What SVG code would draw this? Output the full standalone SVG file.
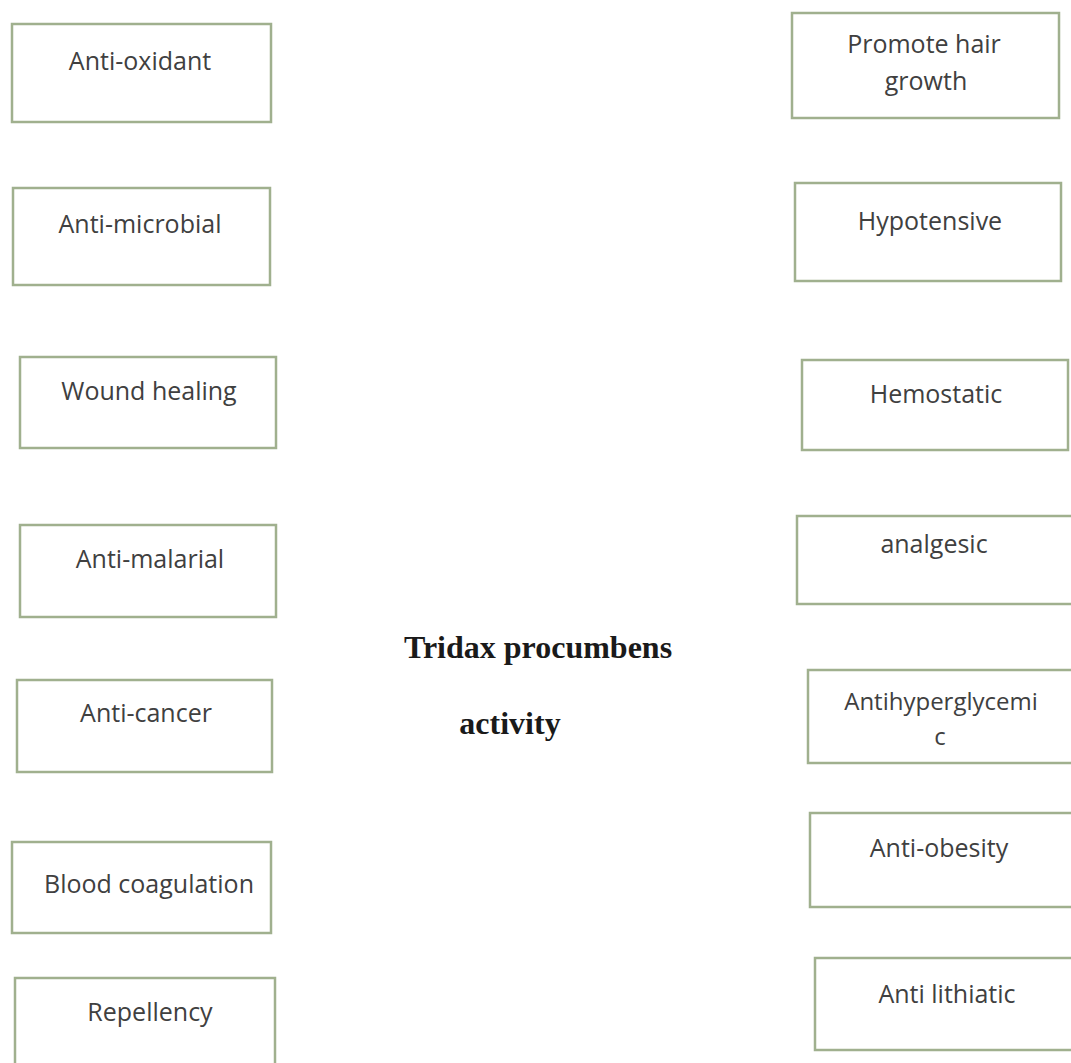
<svg xmlns="http://www.w3.org/2000/svg" width="1071" height="1063" viewBox="0 0 1071 1063">
<style>
.box{fill:#ffffff;stroke:#a0b08e;stroke-width:2.5}
.lbl{font-family:"Open Sans","Liberation Sans",sans-serif;font-size:25px;fill:#404040;text-anchor:middle}
.sm{font-size:24px}
.ttl{font-family:"Liberation Serif",serif;font-weight:bold;font-size:32px;fill:#1a1a1a;text-anchor:middle}
</style>
<rect width="1071" height="1063" fill="#ffffff"/>
<g id="connectors"></g>
<g id="n-antioxidant"><rect class="box" x="12" y="24" width="259" height="98"/><text class="lbl" x="140" y="70">Anti-oxidant</text></g>
<g id="n-antimicrobial"><rect class="box" x="13" y="188" width="257" height="97"/><text class="lbl" x="140" y="233">Anti-microbial</text></g>
<g id="n-wound"><rect class="box" x="20" y="357" width="256" height="91"/><text class="lbl" x="149" y="400">Wound healing</text></g>
<g id="n-antimalarial"><rect class="box" x="20" y="525" width="256" height="92"/><text class="lbl" x="150" y="568">Anti-malarial</text></g>
<g id="n-anticancer"><rect class="box" x="17" y="680" width="255" height="92"/><text class="lbl" x="146" y="722">Anti-cancer</text></g>
<g id="n-blood"><rect class="box" x="12" y="842" width="259" height="91"/><text class="lbl" x="149" y="893">Blood coagulation</text></g>
<g id="n-repellency"><rect class="box" x="15" y="978" width="260" height="95"/><text class="lbl" x="150" y="1021">Repellency</text></g>
<g id="n-hair"><rect class="box" x="792" y="13" width="267" height="105"/><text class="lbl" x="924" y="53">Promote hair</text><text class="lbl" x="926" y="90">growth</text></g>
<g id="n-hypotensive"><rect class="box" x="795" y="183" width="266" height="98"/><text class="lbl" x="930" y="230">Hypotensive</text></g>
<g id="n-hemostatic"><rect class="box" x="802" y="360" width="266" height="90"/><text class="lbl" x="936" y="403">Hemostatic</text></g>
<g id="n-analgesic"><rect class="box" x="797" y="516" width="280" height="88"/><text class="lbl" x="934" y="553">analgesic</text></g>
<g id="n-antihyper"><rect class="box" x="808" y="670" width="270" height="93"/><text class="lbl sm" x="941" y="710">Antihyperglycemi</text><text class="lbl sm" x="940" y="745">c</text></g>
<g id="n-antiobesity"><rect class="box" x="810" y="813" width="270" height="94"/><text class="lbl" x="939" y="857">Anti-obesity</text></g>
<g id="n-antilithiatic"><rect class="box" x="815" y="958" width="265" height="92"/><text class="lbl" x="947" y="1003">Anti lithiatic</text></g>
<g id="n-title"><text class="ttl" x="538" y="658">Tridax procumbens</text><text class="ttl" x="510" y="734">activity</text></g>
</svg>
